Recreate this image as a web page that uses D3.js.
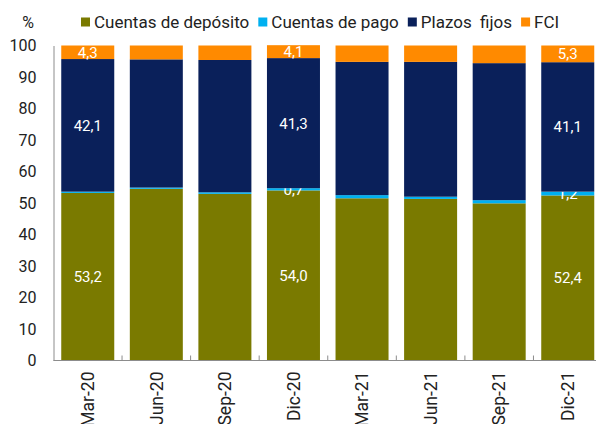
<!DOCTYPE html>
<html>
<head>
<meta charset="utf-8">
<script src="https://cdn.jsdelivr.net/npm/d3@7"></script>
<style>
    body { margin: 0; background: #fff; }
    svg { display: block; font-family: Roboto, sans-serif; }
</style>
</head>
<body>
<svg id="chart" width="596" height="424"></svg>
<script>
const categories = ['Mar-20', 'Jun-20', 'Sep-20', 'Dic-20', 'Mar-21', 'Jun-21', 'Sep-21', 'Dic-21']
const seriesNames = ['Cuentas de depósito', 'Cuentas de pago', 'Plazos  fijos', 'FCI']
const deposito = [53.2, 54.5, 52.9, 54.0, 51.5, 51.3, 49.9, 52.4]
const pago = [0.4, 0.4, 0.5, 0.7, 1.0, 0.7, 1.0, 1.2]
const plazos = [42.1, 40.7, 42.0, 41.3, 42.3, 42.8, 43.5, 41.1]
const fci = [4.3, 4.4, 4.6, 4.1, 5.2, 5.2, 5.6, 5.3]
const yTicks = [0, 10, 20, 30, 40, 50, 60, 70, 80, 90, 100]
// which bars carry a value label, per series
const labelled = {
    dep: ['Mar-20', 'Dic-20', 'Dic-21'],
    pago: ['Dic-20', 'Dic-21'],
    pf: ['Mar-20', 'Dic-20', 'Dic-21'],
    fci: ['Mar-20', 'Dic-20', 'Dic-21']
}

const colors = ['#7a7a00', '#00b0f0', '#0a205a', '#ff8a00']
const keys = ['dep', 'pago', 'pf', 'fci']

const rows = categories.map((c, i) => ({
    cat: c, dep: deposito[i], pago: pago[i], pf: plazos[i], fci: fci[i]
}))

const svg = d3.select('#chart')
const margin = { left: 53.5, right: -6, top: 45.5, bottom: 63.5 }
const width = 596 - margin.left - margin.right
const height = 424 - margin.top - margin.bottom

const x = d3.scaleBand()
    .domain(categories)
    .range([margin.left, margin.left + width])
    .paddingInner(0.227)
    .paddingOuter(0.113)

const y = d3.scaleLinear()
    .domain([0, 100])
    .range([margin.top + height, margin.top])

const stacked = d3.stack().keys(keys)(rows)

const layers = svg.selectAll('.layer')
    .data(stacked)
    .enter()
    .append('g')
    .attr('class', 'layer')
    .attr('fill', (d, i) => colors[i])

layers.selectAll('rect')
    .data((d) => d)
    .enter()
    .append('rect')
    .attr('x', (d) => x(d.data.cat))
    .attr('width', x.bandwidth())
    .attr('y', (d) => y(d[1]))
    .attr('height', (d) => y(d[0]) - y(d[1]))

// value labels
layers.each(function (layer) {
    d3.select(this).selectAll('text')
        .data(layer.filter((d) => labelled[layer.key].includes(d.data.cat)))
        .enter()
        .append('text')
        .attr('x', (d) => x(d.data.cat) + x.bandwidth() / 2)
        .attr('y', (d) => (y(d[0]) + y(d[1])) / 2)
        .attr('dy', '0.36em')
        .attr('text-anchor', 'middle')
        .attr('fill', '#fff')
        .attr('font-size', 15)
        .text((d) => d3.format('.1f')(d.data[layer.key]).replace('.', ','))
})

// y axis
const yAxis = svg.append('g')
    .attr('transform', `translate(${margin.left},0)`)
    .call(d3.axisLeft(y).tickValues(yTicks).tickSize(0).tickPadding(17))
yAxis.select('.domain').attr('stroke', '#8c8c8c')
yAxis.selectAll('text')
    .attr('font-size', 16)
    .attr('font-family', 'Roboto, sans-serif')
    .attr('fill', '#222')

// x axis: ticks sit on category boundaries and point up
const xAxisY = y(0)
const xAxis = svg.append('g')
    .attr('transform', `translate(0,${xAxisY})`)
xAxis.append('line')
    .attr('x1', margin.left)
    .attr('x2', 596)
    .attr('stroke', '#8c8c8c')
xAxis.selectAll('.tick')
    .data(categories.slice(1))
    .enter()
    .append('line')
    .attr('class', 'tick')
    .attr('x1', (d) => x(d) - x.step() * x.paddingInner() / 2)
    .attr('x2', (d) => x(d) - x.step() * x.paddingInner() / 2)
    .attr('y1', 0)
    .attr('y2', -5)
    .attr('stroke', '#8c8c8c')
xAxis.selectAll('.label')
    .data(categories)
    .enter()
    .append('text')
    .attr('class', 'label')
    .attr('transform', (d) => `translate(${x(d) + x.bandwidth() / 2},11) rotate(-90)`)
    .attr('dy', '0.36em')
    .attr('text-anchor', 'end')
    .attr('font-size', 17.5)
    .attr('fill', '#222')
    .text((d) => d)

// unit
svg.append('text')
    .attr('x', 28)
    .attr('y', 22)
    .attr('dy', '0.36em')
    .attr('text-anchor', 'middle')
    .attr('font-size', 16)
    .attr('fill', '#222')
    .text('%')

// legend
const legend = svg.append('g').attr('transform', 'translate(81,22)')
let lx = 0
seriesNames.forEach((name, i) => {
    const item = legend.append('g').attr('transform', `translate(${lx},0)`)
    item.append('rect')
        .attr('x', 0)
        .attr('y', -4.5)
        .attr('width', 9)
        .attr('height', 9)
        .attr('fill', colors[i])
    const t = item.append('text')
        .attr('x', 13)
        .attr('dy', '0.36em')
        .attr('font-size', 17)
        .attr('fill', '#222')
        .style('white-space', 'pre')
        .text(name)
    lx += 13 + t.node().getComputedTextLength() + 9
})
</script>
</body>
</html>
